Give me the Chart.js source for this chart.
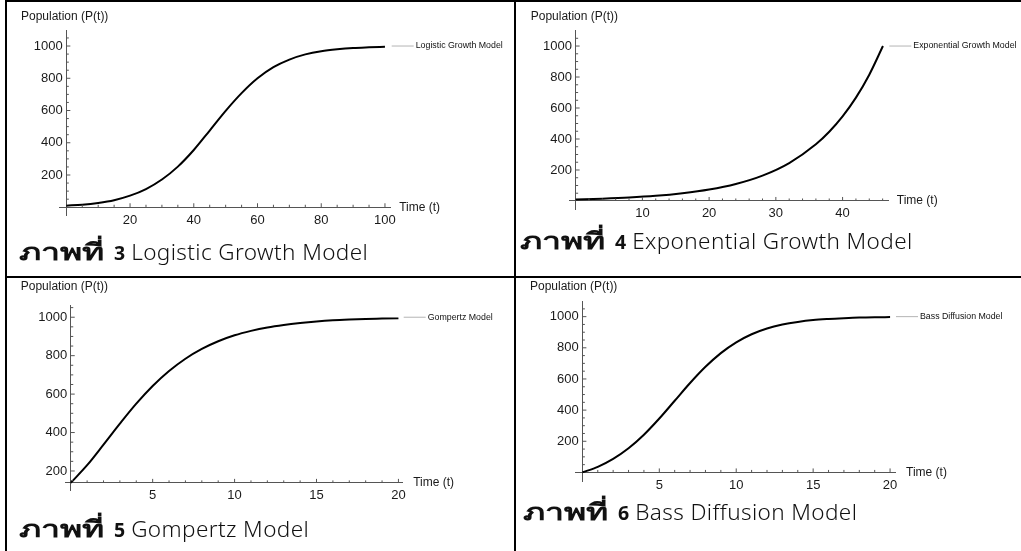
<!DOCTYPE html>
<html>
<head>
<meta charset="utf-8">
<script src="https://cdn.jsdelivr.net/npm/chart.js@4.4.0/dist/chart.umd.min.js"></script>
<style>
  html, body { margin: 0; padding: 0; background: #fff; }
  body { width: 1021px; height: 551px; position: relative; overflow: hidden; }
  .panel { position: absolute; }
  .rule { position: absolute; background: #000; z-index: 5; }
  .cap { position: absolute; font-family: "Noto Sans", sans-serif; line-height: 20px;
         color: #111; white-space: nowrap; }
  .cap .th { display: inline-block; width: 95px; font-size: 23px; font-weight: 700; }
  .cap .th i { display: inline-block; font-style: normal; transform: scaleX(1.47); transform-origin: 0 50%; }
  .cap .num { font-size: 19.5px; font-weight: 700; }
  .cap .lt { font-size: 22.5px; font-weight: 300; letter-spacing: 0.4px; margin-left: 6px; }
</style>
</head>
<body>

<div class="rule" style="left:5px;top:0;width:2px;height:551px"></div>
<div class="rule" style="left:5px;top:0;width:1016px;height:2px"></div>
<div class="rule" style="left:514px;top:0;width:2px;height:551px"></div>
<div class="rule" style="left:5px;top:276px;width:1016px;height:2px"></div>

<div class="panel" style="left:0;top:0;width:510px;height:275px"><canvas id="logistic"></canvas></div>
<div class="panel" style="left:510px;top:0;width:511px;height:275px"><canvas id="exponential"></canvas></div>
<div class="panel" style="left:0;top:275px;width:510px;height:276px"><canvas id="gompertz"></canvas></div>
<div class="panel" style="left:510px;top:275px;width:511px;height:276px"><canvas id="bass"></canvas></div>

<div class="cap" style="left:19px;top:241px"><span class="th"><i>ภาพที่</i></span><span class="num">3</span><span class="lt">Logistic Growth Model</span></div>
<div class="cap" style="left:520px;top:230px"><span class="th"><i>ภาพที่</i></span><span class="num">4</span><span class="lt">Exponential Growth Model</span></div>
<div class="cap" style="left:19px;top:518px"><span class="th"><i>ภาพที่</i></span><span class="num">5</span><span class="lt">Gompertz Model</span></div>
<div class="cap" style="left:523px;top:501px"><span class="th"><i>ภาพที่</i></span><span class="num">6</span><span class="lt">Bass Diffusion Model</span></div>

<script>
// values
const logisticT = [0, 5, 10, 15, 20, 25, 30, 35, 40, 45, 50, 55, 60, 65, 70, 75, 80, 85, 90, 95, 100];
const logisticP = [10, 16, 27, 44, 72, 113, 172, 252, 355, 476, 598, 708, 800, 869, 916, 948, 968, 980, 988, 992, 995];

const exponentialT = [0, 4, 8, 12, 16, 20, 24, 28, 32, 36, 38, 40, 42, 44, 46.05];
const exponentialP = [10, 15, 22, 33, 50, 74, 110, 164, 245, 366, 447, 546, 667, 815, 1000];

const gompertzT = [0, 1, 2, 3, 4, 5, 6, 7, 8, 9, 10, 11, 12, 13, 14, 15, 16, 17, 18, 19, 20];
const gompertzP = [138, 230, 337, 446, 550, 642, 720, 784, 835, 875, 906, 929, 947, 960, 970, 978, 984, 988, 991, 993, 995];

const bassT = [0, 1, 2, 3, 4, 5, 6, 7, 8, 9, 10, 11, 12, 13, 14, 15, 16, 17, 18, 19, 20];
const bassP = [0, 36, 87, 155, 242, 346, 460, 574, 678, 766, 835, 887, 924, 949, 966, 978, 985, 990, 994, 996, 997];

const AXIS_COLOR = '#555';
const LABEL_COLOR = '#1a1a1a';

Chart.defaults.font.family = '"Liberation Sans", Arial, sans-serif';
Chart.defaults.font.size = 13;
Chart.defaults.color = LABEL_COLOR;

// minor/major ticks pointing inward, axis names and the small legend
const mathematicaAxes = {
  id: 'mathematicaAxes',
  afterDraw(chart, args, o) {
    const { ctx, chartArea, scales } = chart;
    const xs = scales.x, ys = scales.y;
    const ax = xs.getPixelForValue(0);
    const ay = ys.getPixelForValue(o.yCross);
    ctx.save();
    ctx.strokeStyle = AXIS_COLOR;
    ctx.lineWidth = 1;
    ctx.beginPath();
    for (let k = Math.ceil(xs.min / o.xMinor); k <= Math.floor(xs.max / o.xMinor); k++) {
      const v = k * o.xMinor;
      if (v === 0) continue;
      const len = (v % o.xMajor === 0) ? 4 : 2.5;
      const px = xs.getPixelForValue(v);
      ctx.moveTo(px, ay);
      ctx.lineTo(px, ay - len);
    }
    for (let k = Math.ceil(ys.min / o.yMinor); k <= Math.floor(ys.max / o.yMinor); k++) {
      const v = k * o.yMinor;
      if (v <= o.yCross) continue;
      const len = (v % o.yMajor === 0) ? 4 : 2.5;
      const py = ys.getPixelForValue(v);
      ctx.moveTo(ax, py);
      ctx.lineTo(ax + len, py);
    }
    ctx.stroke();

    ctx.fillStyle = LABEL_COLOR;
    ctx.font = '12px "Liberation Sans", Arial, sans-serif';
    ctx.textBaseline = 'middle';
    ctx.textAlign = 'left';
    ctx.fillText('Population (P(t))', o.titleX, o.titleY);
    ctx.fillText('Time (t)', chartArea.right + o.timeDx, ay);

    const ly = ys.getPixelForValue(1000);
    ctx.strokeStyle = '#b4b4b4';
    ctx.beginPath();
    ctx.moveTo(chartArea.right + 1, ly);
    ctx.lineTo(chartArea.right + 23, ly);
    ctx.stroke();
    ctx.fillStyle = '#111';
    ctx.font = '8.8px "Liberation Sans", Arial, sans-serif';
    ctx.fillText(chart.data.datasets[0].label, chartArea.right + 25, ly);
    ctx.restore();
  }
};

function makeChart(id, label, t, p, o) {
  const pts = t.map((v, i) => ({ x: v, y: p[i] }));
  return new Chart(document.getElementById(id), {
    type: 'line',
    data: {
      datasets: [{
        label: label,
        data: pts,
        borderColor: '#000',
        borderWidth: 2,
        pointRadius: 0,
        fill: false,
        cubicInterpolationMode: 'monotone'
      }]
    },
    options: {
      responsive: true,
      maintainAspectRatio: false,
      animation: false,
      layout: { padding: o.pad },
      plugins: {
        legend: { display: false },
        tooltip: { enabled: false },
        mathematicaAxes: o
      },
      scales: {
        x: {
          type: 'linear',
          position: { y: o.yCross },
          min: o.xMin, max: o.xMax,
          grid: { display: false, drawTicks: false },
          border: { color: AXIS_COLOR, width: 1 },
          ticks: {
            stepSize: o.xMajor, includeBounds: false, autoSkip: false, maxRotation: 0, padding: 5,
            callback: (v) => v === 0 ? '' : v
          }
        },
        y: {
          type: 'linear',
          position: { x: 0 },
          min: o.yMin, max: o.yMax,
          grid: { display: false, drawTicks: false },
          border: { color: AXIS_COLOR, width: 1 },
          ticks: {
            stepSize: o.yMajor, includeBounds: false, autoSkip: false,
            // trailing space keeps the number clear of the axis line
            callback: (v) => v <= o.yCross ? '' : v + ' '
          }
        }
      }
    },
    plugins: [mathematicaAxes]
  });
}

makeChart('logistic', 'Logistic Growth Model', logisticT, logisticP, {
  pad: { left: 59, right: 119.3, top: 30.7, bottom: 60 },
  xMin: -2.3, xMax: 101.8, xMajor: 20, xMinor: 5,
  yMin: -48, yMax: 1095, yMajor: 200, yMinor: 50, yCross: 0,
  titleX: 21, titleY: 16.5, timeDx: 8.5
});

makeChart('exponential', 'Exponential Growth Model', exponentialT, exponentialP, {
  pad: { left: 59.3, right: 132.7, top: 30.7, bottom: 65.5 },
  xMin: -0.95, xMax: 46.85, xMajor: 10, xMinor: 2,
  yMin: -55, yMax: 1099, yMajor: 200, yMinor: 50, yCross: 0,
  titleX: 20.7, titleY: 16.5, timeDx: 8.5
});

makeChart('gompertz', 'Gompertz Model', gompertzT, gompertzP, {
  pad: { left: 65, right: 107.3, top: 30.7, bottom: 61 },
  xMin: -0.35, xMax: 20.26, xMajor: 5, xMinor: 1,
  yMin: 101, yMax: 1060, yMajor: 200, yMinor: 50, yCross: 138,
  titleX: 20.7, titleY: 11.3, timeDx: 10.5
});

makeChart('bass', 'Bass Diffusion Model', bassT, bassP, {
  pad: { left: 65, right: 126, top: 26.7, bottom: 70 },
  xMin: -0.48, xMax: 20.32, xMajor: 5, xMinor: 1,
  yMin: -55, yMax: 1096, yMajor: 200, yMinor: 50, yCross: 0,
  titleX: 20, titleY: 11.3, timeDx: 11
});
</script>
</body>
</html>
